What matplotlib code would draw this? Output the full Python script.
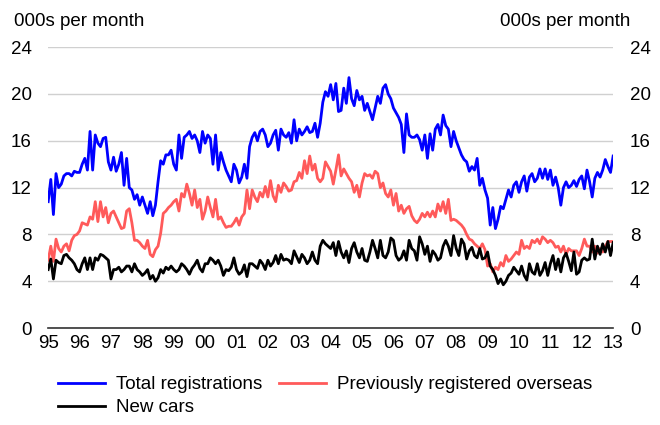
import numpy as np
import matplotlib
matplotlib.use("Agg")
import matplotlib.pyplot as plt

plt.rcParams['font.family'] = ['Liberation Sans', 'DejaVu Sans']

# monthly values, 000s, Jan 1995 - Jan 2013
total = [
    10.8, 12.7, 9.7, 13.2, 12.0, 12.3, 13.0, 13.2, 13.2, 13.0, 13.4, 13.3,   # 95
    13.3, 14.0, 14.5, 13.5, 16.8, 13.5, 16.5, 15.8, 15.5, 16.2, 16.3, 14.2,  # 96
    13.5, 14.6, 13.4, 14.0, 15.0, 12.2, 14.5, 12.0, 11.8, 11.0, 11.4, 10.5,  # 97
    11.2, 10.5, 9.8, 10.8, 9.6, 10.5, 12.5, 14.3, 14.0, 14.8, 14.8, 15.2,    # 98
    14.0, 13.5, 16.5, 14.5, 16.3, 16.5, 16.8, 16.2, 16.5, 16.0, 15.0, 16.8,  # 99
    15.8, 16.5, 16.2, 14.0, 16.5, 13.5, 15.0, 14.2, 13.5, 13.0, 12.5, 14.0,  # 00
    13.5, 12.4, 12.9, 14.0, 12.8, 15.5, 16.3, 16.7, 16.0, 16.8, 17.0, 16.5,  # 01
    15.5, 15.8, 16.5, 16.9, 15.2, 17.0, 16.5, 16.3, 16.7, 15.8, 17.8, 16.0,  # 02
    17.0, 16.5, 16.8, 17.2, 16.7, 16.8, 17.5, 16.3, 17.5, 19.3, 20.2, 19.8,  # 03
    20.8, 19.5, 20.9, 18.5, 18.6, 20.5, 19.2, 21.4, 19.6, 19.0, 20.3, 19.5,  # 04
    19.8, 18.6, 19.2, 18.5, 17.8, 18.8, 19.8, 19.2, 20.5, 20.8, 20.0, 19.6,  # 05
    18.8, 18.4, 18.0, 17.4, 15.0, 18.3, 16.5, 16.3, 16.3, 16.5, 16.1, 15.2,  # 06
    16.5, 14.5, 16.6, 15.2, 17.0, 17.4, 16.5, 18.2, 17.3, 17.0, 15.5, 16.8,  # 07
    16.0, 15.4, 14.8, 14.4, 14.2, 13.4, 13.8, 13.5, 14.5, 12.2, 12.8, 11.8,  # 08
    11.1, 8.8, 10.3, 8.5, 9.3, 10.4, 10.2, 11.0, 11.8, 11.2, 12.2, 12.5,     # 09
    11.6, 12.5, 13.0, 11.7, 12.9, 13.2, 12.5, 12.8, 13.6, 12.8, 13.6, 12.7,  # 10
    13.5, 12.2, 12.9, 12.0, 10.5, 12.0, 12.5, 12.0, 12.2, 12.6, 12.1, 12.7,  # 11
    13.0, 11.9, 13.5, 12.5, 11.2, 12.8, 13.3, 12.9, 13.5, 14.4, 13.8, 13.3,  # 12
    14.7,                                                                    # 13
]

overseas = [
    5.8, 7.0, 5.7, 7.6, 6.8, 6.5, 7.0, 7.2, 6.6, 7.5, 7.9, 8.0,
    8.3, 9.0, 8.9, 8.8, 9.5, 9.3, 10.8, 9.1, 10.8, 9.5, 10.3, 9.0,
    9.8, 10.0, 9.5, 9.0, 8.5, 8.6, 10.0, 10.2, 9.0, 7.5, 7.5, 7.3,
    7.0, 6.8, 7.5, 6.3, 6.1, 6.7, 7.0, 8.1, 9.8, 10.0, 10.3, 10.5,
    10.8, 11.0, 10.0, 11.5, 11.2, 12.3, 11.5, 10.5, 11.8, 10.3, 11.0, 9.3,
    10.0, 11.2, 10.3, 9.5, 11.0, 9.3, 9.5, 9.0, 8.6, 8.7, 8.7, 9.0,
    9.4, 8.8, 9.5, 9.8, 11.8, 10.2, 11.8, 11.2, 10.8, 11.6, 11.2, 12.1,
    11.2, 12.6, 11.3, 10.8, 12.2, 11.6, 12.4, 12.1, 11.7, 11.8, 12.5, 12.6,
    13.3, 12.8, 14.3, 13.2, 14.7, 13.5, 14.0, 12.8, 12.5, 12.8, 14.2, 13.8,
    13.4, 12.3, 13.5, 14.8, 13.0, 13.6, 13.2, 12.8, 12.5, 11.6, 12.2, 11.2,
    12.4, 13.2, 13.0, 13.1, 12.8, 13.4, 13.2, 12.0, 12.4, 11.5, 11.2, 11.8,
    10.5, 11.5, 10.0, 10.5, 9.8, 10.2, 10.4, 9.6, 9.2, 9.0, 9.3, 9.8,
    9.5, 9.9, 9.5, 10.0, 9.5, 10.6, 10.0, 10.8, 9.8, 11.0, 9.2, 9.3,
    9.2, 9.0, 8.8, 8.5, 8.0, 7.6, 7.5, 7.2, 7.0, 6.8, 7.2, 6.7,
    5.3, 5.5, 4.8, 5.2, 5.0, 5.6, 5.3, 6.2, 5.7, 5.9, 6.2, 6.5,
    6.3, 7.5, 6.8, 7.0, 6.8, 7.5, 7.3, 7.6, 7.2, 7.8, 7.6, 7.3,
    7.5, 7.3, 6.9, 7.0, 6.5, 7.0, 6.3, 6.8, 6.6, 6.6, 6.6, 6.2,
    6.8, 7.6, 7.0, 7.0, 6.5, 7.0, 6.4, 6.8, 6.5, 7.0, 7.4, 7.4,
    7.4,
]

new_cars = [
    5.0, 5.9, 4.2, 5.8, 5.6, 5.5, 6.2, 6.3, 6.0, 5.8, 5.5, 5.0,
    4.8, 5.5, 6.0, 5.0, 6.0, 5.0, 6.0, 5.8, 6.3, 6.2, 6.0, 5.8,
    4.2, 5.0, 5.0, 5.2, 4.8, 5.0, 5.3, 5.3, 4.8, 5.5, 5.0, 4.8,
    4.5, 4.7, 5.0, 4.2, 4.5, 4.0, 4.3, 5.0, 4.7, 5.2, 5.0, 5.3,
    5.0, 4.8, 5.0, 5.5, 5.3, 5.0, 4.6, 5.1, 5.4, 5.8, 5.1, 4.8,
    5.5, 5.5, 6.0, 5.8, 5.5, 5.8, 5.3, 4.5, 5.0, 4.9, 5.2, 6.0,
    5.0, 4.6, 4.8, 5.4, 4.4, 5.5, 5.5, 5.3, 5.1, 5.8, 5.5, 5.0,
    5.8, 5.3, 5.6, 6.2, 5.5, 6.3, 5.8, 5.9, 5.8, 5.5, 6.6, 6.1,
    5.6, 6.3, 6.0, 5.5, 5.8, 6.5, 5.8, 5.5, 7.0, 7.5, 7.2, 7.0,
    6.8, 7.3, 6.2, 7.4, 6.5, 6.0, 6.6, 5.6, 6.8, 7.3, 6.5, 6.0,
    6.8, 5.8, 5.7, 6.5, 7.5, 6.8, 6.0, 7.5, 6.2, 6.0, 6.5, 7.7,
    7.5, 6.2, 5.8, 6.0, 6.6, 5.8, 7.5, 6.8, 6.6, 5.8, 7.8, 7.2,
    6.3, 7.0, 5.7, 6.6, 6.3, 5.8, 6.0, 7.0, 7.5, 7.0, 6.2, 7.9,
    6.8, 6.2, 7.6, 7.2, 5.9, 6.6, 6.9, 6.2, 6.0, 6.8, 5.9, 6.0,
    6.5, 5.3, 5.0, 4.5, 3.8, 4.2, 3.7, 4.0, 4.5, 4.7, 5.2, 4.9,
    4.6, 5.3, 4.5, 4.1, 5.5, 4.8, 4.6, 5.5, 4.5, 4.9, 5.6, 4.5,
    5.5, 6.2, 5.0, 5.9, 4.8, 6.0, 6.4, 5.7, 4.9, 6.5, 4.6, 4.8,
    5.8, 6.0, 5.8, 5.9, 7.6, 5.9, 7.0, 6.3, 7.2, 6.5, 7.4, 6.2,
    7.3,
]

start_year = 1995
year_labels = ['95', '96', '97', '98', '99', '00', '01', '02', '03', '04',
               '05', '06', '07', '08', '09', '10', '11', '12', '13']
y_ticks = [0, 4, 8, 12, 16, 20, 24]

x = start_year + np.arange(len(total)) / 12.0

fs = 13.5
fig = plt.figure(figsize=(6.6, 4.25), dpi=100)
ax = fig.add_axes([0.073, 0.228, 0.856, 0.661])

lw = 2.0
l_over, = ax.plot(x, overseas, color='#ff5a5a', lw=lw, label='Previously registered overseas')
l_tot, = ax.plot(x, total, color='#0000ff', lw=lw, label='Total registrations')
l_new, = ax.plot(x, new_cars, color='black', lw=lw, label='New cars')

ax.set_xlim(1995, 2013)
ax.set_ylim(0, 24)
ax.set_yticks(y_ticks)
ax.set_xticks(np.arange(1995, 2014))
ax.set_xticklabels(year_labels)
ax.grid(axis='y', color='#d0d0d0', lw=1)
ax.set_axisbelow(True)
for s in ['top', 'left', 'right']:
    ax.spines[s].set_visible(False)
ax.spines['bottom'].set_color('#333333')
ax.spines['bottom'].set_linewidth(1.2)
ax.tick_params(axis='both', length=0, labelsize=fs, pad=5)
ax.tick_params(axis='y', labelright=True, pad=12)

fig.text(14 / 660, 1 - 21 / 425, '000s per month', fontsize=fs, va='center')
fig.text(630 / 660, 1 - 21 / 425, '000s per month', fontsize=fs, va='center', ha='right')

fig.legend([l_tot, l_new, l_over],
           ['Total registrations', 'New cars', 'Previously registered overseas'],
           ncol=2, loc='upper left', bbox_to_anchor=(58 / 660, 1 - 376 / 425),
           frameon=False, fontsize=fs, handlelength=2.5, handletextpad=0.6,
           columnspacing=0.9, labelspacing=0.32, borderpad=0, borderaxespad=0)

fig.savefig('out.png', dpi=100)
